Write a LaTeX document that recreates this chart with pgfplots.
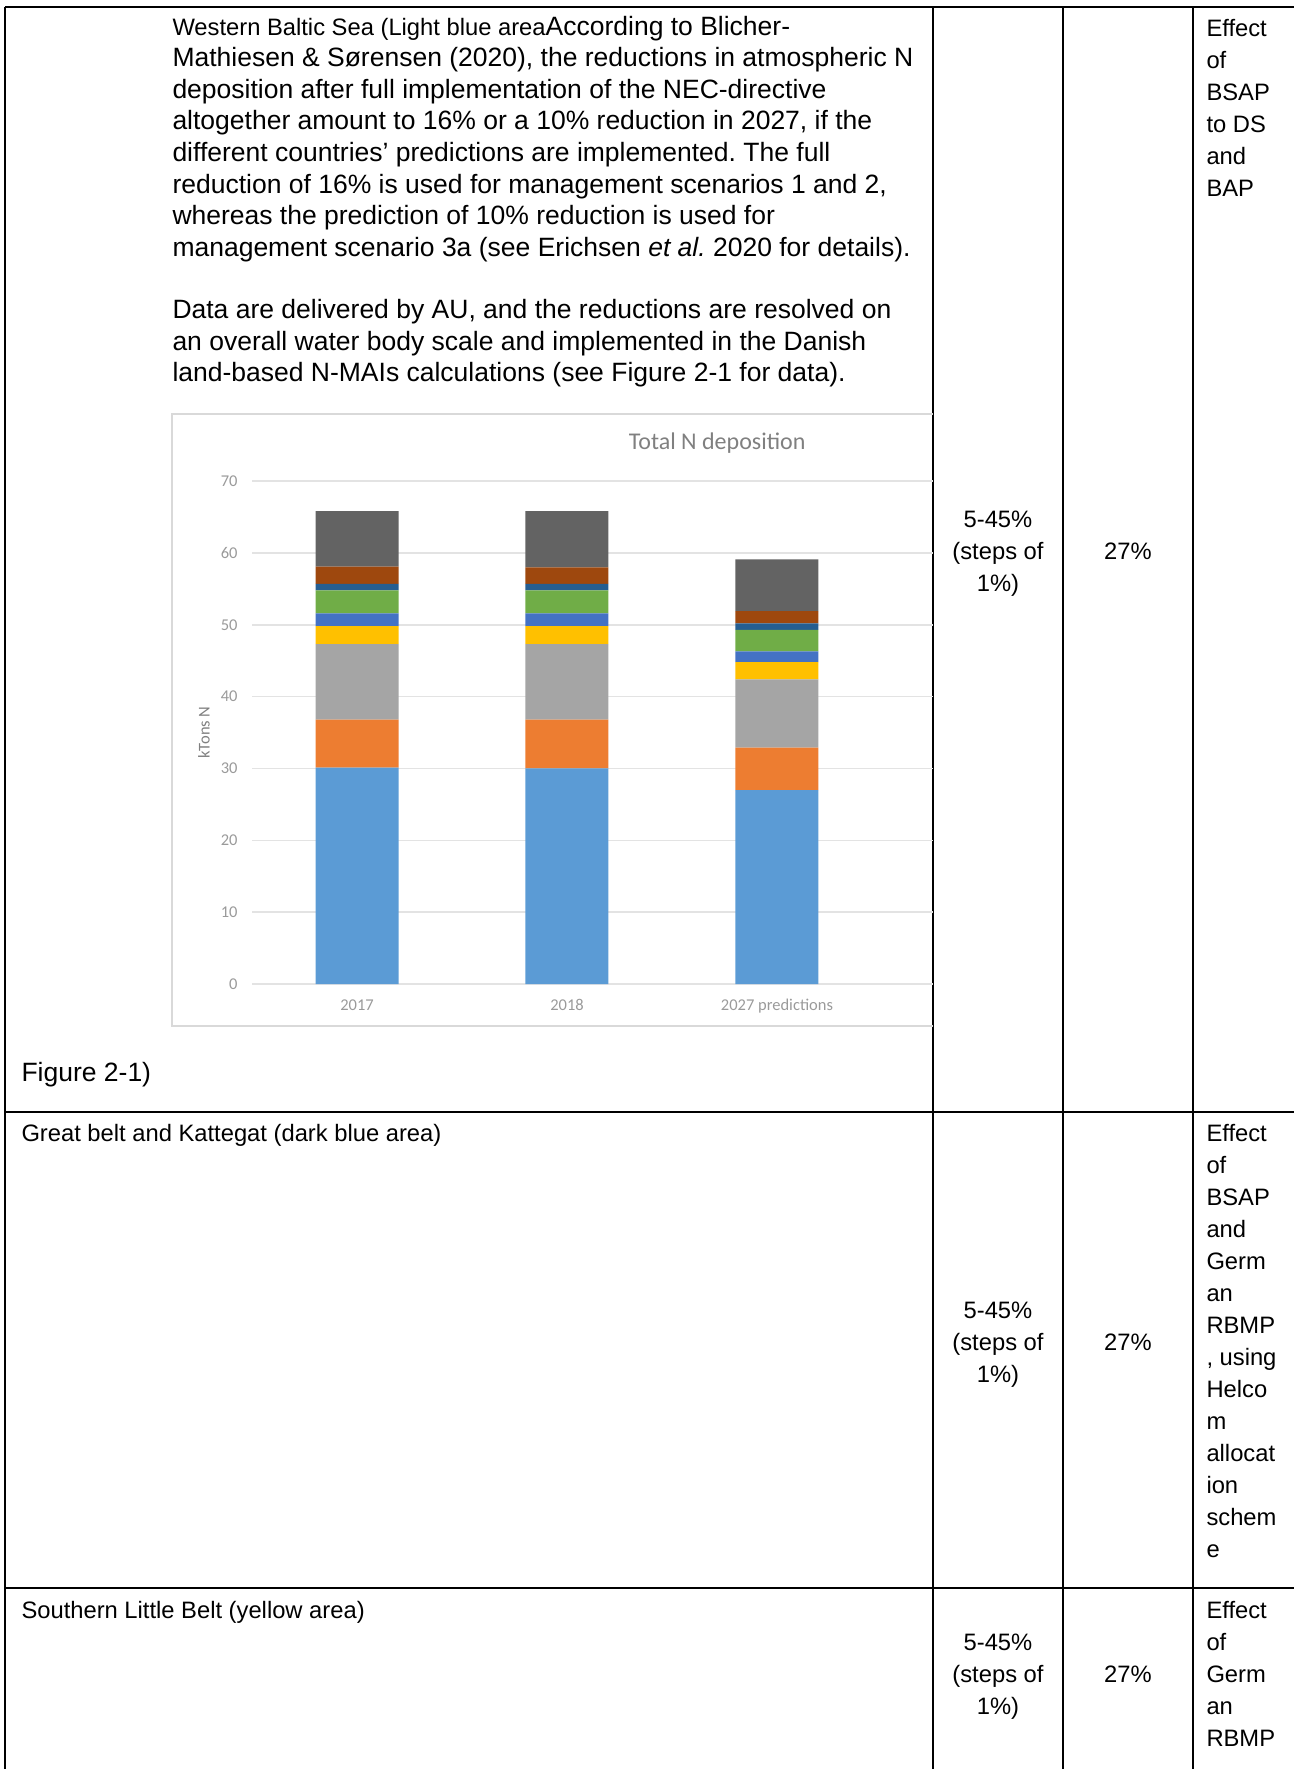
\documentclass[border=0pt]{standalone}
\usepackage{fontspec}
\setmainfont{Liberation Sans}
\newfontfamily\chartfont{Carlito}
\usepackage{pgfplots}
\usepackage{pgfplotstable}
\pgfplotsset{compat=1.18}
\definecolor{c1}{HTML}{5B9BD5}
\definecolor{c2}{HTML}{ED7D31}
\definecolor{c3}{HTML}{A5A5A5}
\definecolor{c4}{HTML}{FFC000}
\definecolor{c5}{HTML}{4472C4}
\definecolor{c6}{HTML}{70AD47}
\definecolor{c7}{HTML}{255E91}
\definecolor{c8}{HTML}{9E480E}
\definecolor{c9}{HTML}{636363}
\definecolor{gridc}{HTML}{E3E3E3}
\definecolor{framec}{HTML}{D9D9D9}
\definecolor{tickc}{HTML}{9A9A9A}
\definecolor{titlec}{HTML}{808080}

\pgfplotstableread{
x s1 s2 s3 s4 s5 s6 s7 s8 s9
0 30.1 6.7 10.5 2.5 1.8 3.2 0.9 2.4 7.7
1 30.0 6.8 10.5 2.5 1.8 3.2 0.9 2.3 7.8
2 27.0 5.9 9.5 2.4 1.5 3.0 0.9 1.7 7.2
}\datatable

\newcommand{\bigf}{\fontsize{10.6}{12.6}\selectfont}
\newcommand{\smf}{\fontsize{9.5}{12}\selectfont}
\newcommand{\cf}{\chartfont\fontsize{6.6}{7.5}\selectfont}

\begin{document}
\frenchspacing
\begin{tikzpicture}[x=0.4pt,y=-0.4pt]
\path[use as bounding box] (0,0) rectangle (1294,1769);
% table rules
\begin{scope}[line width=1pt]
\draw (5,7) -- (1294,7);
\draw (5,7) -- (5,1769);
\draw (933,7) -- (933,1769);
\draw (1063,7) -- (1063,1769);
\draw (1193,7) -- (1193,1769);
\draw (5,1112) -- (1294,1112);
\draw (5,1588) -- (1294,1588);
\end{scope}
% main paragraph
\begin{scope}[every node/.style={anchor=base west, inner sep=0pt}]
\node at (172,35.5) {\smf Western Baltic Sea (Light blue area\bigf According to Blicher-};
\node[font=\bigf] at (172,66.8) {Mathiesen \& Sørensen (2020), the reductions in atmospheric N};
\node[font=\bigf] at (172,98) {deposition after full implementation of the NEC-directive};
\node[font=\bigf] at (172,129.5) {altogether amount to 16\% or a 10\% reduction in 2027, if the};
\node[font=\bigf] at (172,161) {different countries’ predictions are implemented. The full};
\node[font=\bigf] at (172,193) {reduction of 16\% is used for management scenarios 1 and 2,};
\node[font=\bigf] at (172,224.5) {whereas the prediction of 10\% reduction is used for};
\node[font=\bigf] at (172,256) {management scenario 3a (see Erichsen \textit{et al.}\ 2020 for details).};
\node[font=\bigf] at (172,318.7) {Data are delivered by AU, and the reductions are resolved on};
\node[font=\bigf] at (172,350) {an overall water body scale and implemented in the Danish};
\node[font=\bigf] at (172,381) {land-based N-MAIs calculations (see Figure 2-1 for data).};
\node[font=\bigf] at (21,1081) {Figure 2-1)};
\node[font=\smf] at (21,1141) {Great belt and Kattegat (dark blue area)};
\node[font=\smf] at (21,1618) {Southern Little Belt (yellow area)};
% right column
\foreach \t [count=\i from 0] in {Effect,of,BSAP,to DS,and,BAP}
  \node[font=\smf] at (1206,36+32*\i) {\t};
\foreach \t [count=\i from 0] in {Effect,of,BSAP,and,Germ,an,RBMP,{, using},Helco,m,allocat,ion,schem,e}
  \node[font=\smf] at (1206,1141+32*\i) {\t};
\foreach \t [count=\i from 0] in {Effect,of,Germ,an,RBMP}
  \node[font=\smf] at (1206,1618+32*\i) {\t};
\end{scope}
% middle columns
\begin{scope}[every node/.style={anchor=base, inner sep=0pt, font=\smf}]
\foreach \y in {527,1318,1650} {
  \node at (998,\y) {5-45\%};
  \node at (998,\y+32) {(steps of};
  \node at (998,\y+64) {1\%)};
  \node at (1128,\y+32) {27\%};
}
\end{scope}
% chart frame
\draw[draw=framec, line width=0.6pt] (933,414) -- (172,414) -- (172,1026) -- (933,1026);
\begin{axis}[
  at={(100.8pt,-393.6pt)}, anchor=south west,
  width=272.4pt, height=201.2pt, scale only axis,
  xmin=-0.5, xmax=2.743, ymin=0, ymax=70,
  ybar stacked, bar width=33.2pt,
  xtick={0,1,2}, xticklabels={2017,2018,2027 predictions},
  ytick={0,10,...,70},
  ymajorgrids, grid style={draw=gridc, line width=0.6pt},
  axis line style={draw=none}, major tick length=0pt,
  tick label style={font=\cf, text=tickc},
  yticklabel style={inner sep=0pt, anchor=east, xshift=-5.6pt},
  xticklabel style={inner sep=0pt, anchor=base, yshift=-10.4pt},
  /pgf/number format/assume math mode=true,
  title={Total N deposition},
  every axis title/.style={at={(axis description cs:0.683,1.0755)}, anchor=center, inner sep=0pt,
    font=\chartfont\fontsize{9.6}{11}\selectfont, text=titlec},
  ylabel={kTons N},
  every axis y label/.style={at={(axis description cs:-0.0705,0.5)}, rotate=90,
    anchor=center, inner sep=0pt, font=\cf, text=titlec},
]
\addplot[fill=c1, draw=none] table[x=x,y=s1]{\datatable};
\addplot[fill=c2, draw=none] table[x=x,y=s2]{\datatable};
\addplot[fill=c3, draw=none] table[x=x,y=s3]{\datatable};
\addplot[fill=c4, draw=none] table[x=x,y=s4]{\datatable};
\addplot[fill=c5, draw=none] table[x=x,y=s5]{\datatable};
\addplot[fill=c6, draw=none] table[x=x,y=s6]{\datatable};
\addplot[fill=c7, draw=none] table[x=x,y=s7]{\datatable};
\addplot[fill=c8, draw=none] table[x=x,y=s8]{\datatable};
\addplot[fill=c9, draw=none] table[x=x,y=s9]{\datatable};
\end{axis}
\end{tikzpicture}
\end{document}
